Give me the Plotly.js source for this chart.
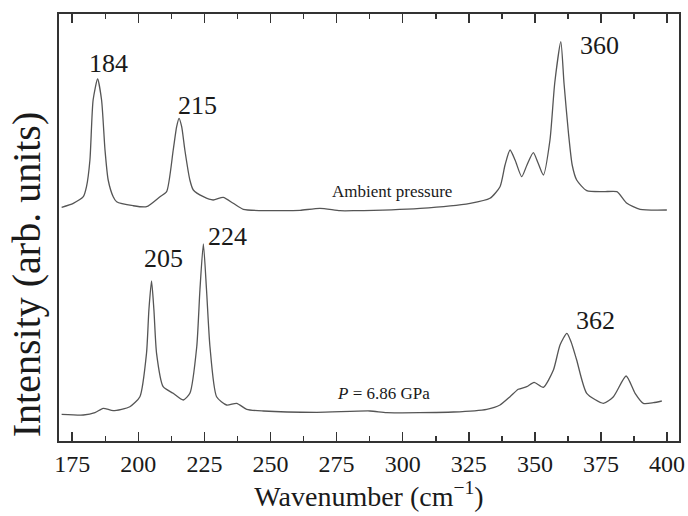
<!DOCTYPE html>
<html>
<head>
<meta charset="utf-8">
<script src="https://cdn.plot.ly/plotly-3.0.1.min.js"></script>
<style>html,body{margin:0;padding:0;background:#fff;}#chart{width:688px;height:516px;}</style>
</head>
<body>
<div id="chart"></div>
<script>
// Raman spectrum at ambient pressure (wavenumber, intensity in arb. units)
const ambientWavenumber = [171.0,175.4,179.2,180.4,181.7,182.9,184.6,186.1,187.4,188.6,190.5,191.8,198.0,203.1,208.2,210.7,213.2,214.5,215.4,216.4,217.6,219.5,220.8,224.6,228.3,232.1,235.9,239.7,254.7,261.2,268.7,276.3,281.3,306.6,325.5,333.0,336.8,338.7,340.6,342.5,345.0,347.0,349.4,351.2,353.2,355.7,357.5,359.8,361.0,362.7,364.1,365.8,369.6,375.9,381.0,384.8,389.8,399.9];
const ambientIntensity  = [3.7,7.7,14.3,24.3,51,111,132,111,61,31,14.3,9.3,5.3,4.3,14.3,19.3,61,84.3,92.7,84.3,61,31,21,14.3,11,13.7,7.7,1.7,0.3,0.7,2.7,0.3,0.3,2.7,7.7,12.7,24.3,46,61,51,34.3,46,58.3,48,36,71,128,169.3,128,77.7,46,31,20.3,19.3,19.3,7.7,1.7,1];

// Raman spectrum at P = 6.86 GPa
const pressureWavenumber = [171.0,179.2,183.6,186.7,190.5,196.8,200.6,203.1,204.0,205.0,205.9,206.9,209.4,213.2,217.0,219.5,222.1,223.3,224.6,225.8,227.1,229.6,233.4,237.2,241.0,247.3,267.5,287.6,294.0,319.2,331.8,336.8,340.6,343.7,346.9,349.7,353.2,357.0,359.5,362.1,363.7,365.8,369.6,375.9,379.7,384.5,387.9,391.0,394.8,398.0];
const pressureIntensity  = [0.7,0,2.3,6.7,4.3,8.3,18.3,61.7,105,134,105,61.7,28.3,21.7,15,21.7,68.3,125,171,125,68.3,18.3,10,11.7,5.7,4,2.7,4,2.3,3,5.7,10,18.3,25.7,28.3,32.7,27.7,45,70,81.7,73,55,21.7,11.7,18.3,39,21.7,11.7,12.3,14];

// vertical offsets used to stack the two spectra
const ambientOffset = 230;
const pressureOffset = 26;

// peak labels
const peakLabels   = ['184','215','360','205','224','362'];
const peakLabelX   = [188.6,222.4,374.3,209.7,233.9,373.1];
const peakLabelY   = [378,336,396,183,204.3,121];

// spectrum labels
const spectrumLabels = ['Ambient pressure','<i>P</i> = 6.86 GPa'];
const spectrumLabelX = [296.0,292.9];
const spectrumLabelY = [249.3,47.7];

const xTickVals = [175,200,225,250,275,300,325,350,375,400];

const lineStyle = {color:'#555555', width:1.3, shape:'spline', smoothing:0.6};
const traces = [
  {x: ambientWavenumber, y: ambientIntensity.map(v => v + ambientOffset), mode:'lines', line: lineStyle, hoverinfo:'skip'},
  {x: pressureWavenumber, y: pressureIntensity.map(v => v + pressureOffset), mode:'lines', line: lineStyle, hoverinfo:'skip'}
];

const FONT = 'Liberation Serif, Times New Roman, serif';
const annotations = [];
peakLabels.forEach((t,i) => annotations.push({x: peakLabelX[i], y: peakLabelY[i], text: t, showarrow:false, xanchor:'center', yanchor:'middle', font:{family:FONT, size:26, color:'#1a1a1a'}}));
spectrumLabels.forEach((t,i) => annotations.push({x: spectrumLabelX[i], y: spectrumLabelY[i], text: t, showarrow:false, xanchor:'center', yanchor:'middle', font:{family:FONT, size:17, color:'#1a1a1a'}}));
// y-axis title (placed as annotation to match its vertical position)
annotations.push({xref:'paper', yref:'paper', x:-0.052, y:0.39, xanchor:'center', yanchor:'middle', textangle:-90,
  text:'Intensity (arb. units)', showarrow:false, font:{family:FONT, size:40, color:'#1a1a1a'}});

const layout = {
  width: 688, height: 516,
  margin: {l:59, r:9, t:14, b:75},
  paper_bgcolor:'#ffffff', plot_bgcolor:'#ffffff',
  showlegend:false,
  font:{family:FONT, color:'#1a1a1a'},
  xaxis: {
    range:[170,404.5], tickvals:xTickVals, ticktext:xTickVals.map(String),
    ticks:'inside', ticklen:9, tickwidth:1.5, tickcolor:'#333',
    showline:true, linecolor:'#333', linewidth:2, mirror:'ticks',
    showgrid:false, zeroline:false,
    tickfont:{family:FONT, size:24, color:'#1a1a1a'},
    minor:{dtick:12.5, tick0:175, ticks:'inside', ticklen:5, tickwidth:1.5, tickcolor:'#333', showgrid:false},
    title:{text:'Wavenumber (cm<sup>\u22121</sup>)', font:{family:FONT, size:28, color:'#1a1a1a'}, standoff:6}
  },
  yaxis: {
    range:[0,427], showticklabels:false, ticks:'',
    showline:true, linecolor:'#333', linewidth:2, mirror:true,
    showgrid:false, zeroline:false
  },
  annotations: annotations
};

Plotly.newPlot('chart', traces, layout, {staticPlot:true, displayModeBar:false});
</script>
</body>
</html>
